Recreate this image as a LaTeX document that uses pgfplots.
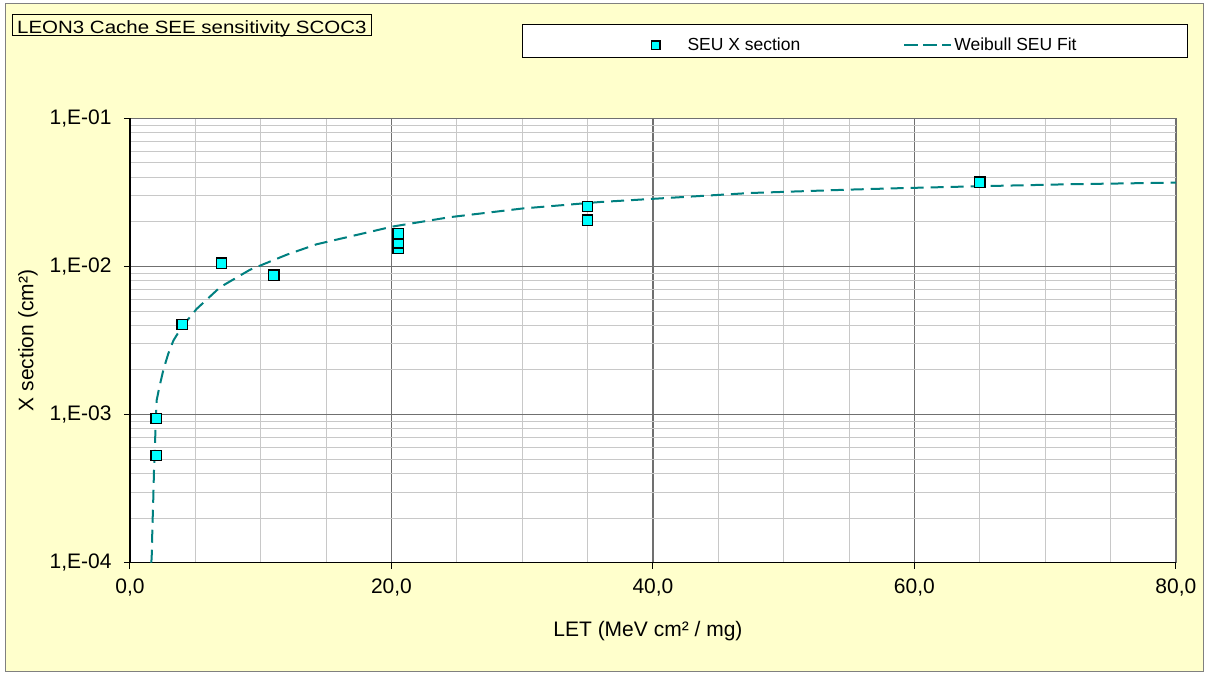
\documentclass[border=0pt]{standalone}
\usepackage{fontspec}
\setmainfont{Liberation Sans}
\newfontfamily\titlefont{Liberation Sans}[FakeStretch=1.15]
\usepackage{pgfplots}
\pgfplotsset{compat=1.18}
\definecolor{bgyellow}{HTML}{FFFFCC}
\definecolor{fitteal}{HTML}{008080}
\definecolor{markcyan}{HTML}{00FFFF}
\definecolor{majgrid}{HTML}{707070}
\definecolor{mingrid}{HTML}{C8C8C8}
\definecolor{border}{HTML}{808080}
\pgfplotsset{
  fitlegend/.style={legend image code/.code={\path (-103pt,0pt) (49pt,0pt); \draw[##1, dash pattern=on 14pt off 5pt] (0pt,0pt) -- (47pt,0pt);}},
  scatterlegend/.style={legend image code/.code={\path (0pt,0pt) (37pt,0pt); \draw[##1, mark size=4.2pt] plot coordinates {(5.5pt,0pt)};}},
}
\begin{document}
\begin{tikzpicture}
\useasboundingbox (0pt,0pt) rectangle (1208pt,675pt);
\fill[white] (0pt,0pt) rectangle (1208pt,675pt);
\draw[border, fill=bgyellow, line width=1pt] (5pt,4pt) rectangle (1203pt,671pt);
% title box
\draw[black, fill=bgyellow, line width=0.8pt] (12.7pt,661pt) rectangle (371.7pt,639.3pt);
\node[anchor=base west, inner sep=0pt, font=\titlefont\fontsize{17.8}{21}\selectfont] at (17pt,641.7pt) {LEON3 Cache SEE sensitivity SCOC3};
% legend box
\draw[black, fill=white, line width=1pt] (522pt,650.3pt) rectangle (1187pt,617.7pt);
\begin{axis}[
  at={(130pt,112.3pt)}, anchor=south west,
  scale only axis, width=1046pt, height=444.4pt,
  xmin=0, xmax=80, ymode=log, ymin=1e-4, ymax=1e-1,
  axis background/.style={fill=white},
  xtick={0,20,40,60,80},
  xticklabels={{0,0},{20,0},{40,0},{60,0},{80,0}},
  minor xtick={5,10,15,25,30,35,45,50,55,65,70,75},
  ytick={1e-4,1e-3,1e-2,1e-1},
  yticklabels={{1,E-04},{1,E-03},{1,E-02},{1,E-01}},
  minor ytick={2e-4,3e-4,4e-4,5e-4,6e-4,7e-4,8e-4,9e-4,2e-3,3e-3,4e-3,5e-3,6e-3,7e-3,8e-3,9e-3,2e-2,3e-2,4e-2,5e-2,6e-2,7e-2,8e-2,9e-2},
  grid=both,
  major grid style={majgrid, line width=1.3pt},
  minor grid style={mingrid, line width=1pt},
  axis x line*=bottom, axis y line*=left,
  axis line style={black, line width=1.4pt},
  tick align=outside, major tick length=6pt, minor tick length=0pt,
  tick style={black, line width=1pt},
  tick label style={font=\fontsize{21}{24}\selectfont},
  yticklabel style={anchor=east, xshift=-9pt},
  xticklabel style={anchor=north, yshift=-7pt},
  label style={font=\fontsize{21}{24}\selectfont},
  xlabel={LET (MeV cm² / mg)},
  ylabel={X section (cm²)},
  xlabel style={at={(axis description cs:0.4952,-0.1537)}, anchor=center},
  ylabel style={at={(axis description cs:-0.0975,0.5)}, anchor=center},
  legend columns=2,
  reverse legend,
  legend style={at={(axis description cs:0.4973,1.1649)}, anchor=west,
    draw=none, fill=none, inner sep=0pt, outer sep=0pt,
    nodes={inner sep=0pt}, font=\fontsize{17.5}{20}\selectfont},
  legend cell align=left,
]
\addplot[fitteal, line width=2pt, dash pattern=on 13pt off 7pt, no marks, fitlegend]
  coordinates {
  (1.62,1.0e-4) (1.658,1.07e-4) (1.709,1.66e-4) (1.785,2.78e-4) (1.836,4.2e-4)
  (1.913,6.37e-4) (1.964,8.7e-4) (2.04,1.25e-3) (2.244,1.53e-3) (2.55,2.0e-3)
  (2.93,2.58e-3) (3.32,3.16e-3) (3.95,3.89e-3) (5.10,5.17e-3) (6.89,7.24e-3)
  (9.18,9.5e-3) (11.99,1.2e-2) (14.26,1.41e-2) (20.1,1.86e-2) (24.45,2.15e-2)
  (30,2.46e-2) (35.9,2.72e-2) (40,2.86e-2) (47.4,3.13e-2) (55,3.30e-2)
  (58.6,3.37e-2) (65,3.48e-2) (72,3.59e-2) (80,3.68e-2)
  };
\addlegendentry{Weibull SEU Fit}
\addplot[only marks, mark=square*, mark size=5.2pt,
  mark options={fill=markcyan, draw=black, line width=1.4pt, solid}, scatterlegend]
  coordinates {
  (2,9.4e-4) (2,5.3e-4) (4,4.05e-3) (7,1.05e-2) (11,8.7e-3)
  (20.5,1.32e-2) (20.5,1.44e-2) (20.5,1.66e-2)
  (35,2.05e-2) (35,2.54e-2) (65,3.71e-2)
  };
\addlegendentry{SEU X section}
\end{axis}
\end{tikzpicture}
\end{document}
